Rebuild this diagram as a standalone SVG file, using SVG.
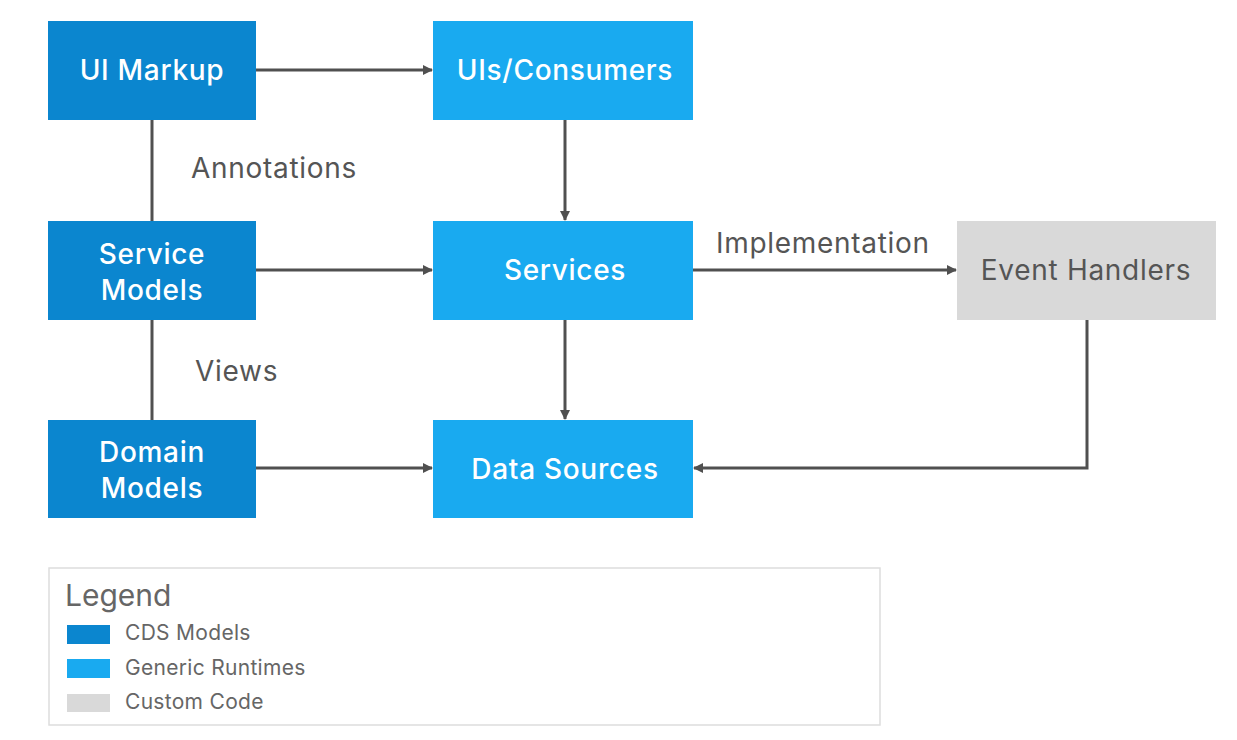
<svg xmlns="http://www.w3.org/2000/svg" width="1237" height="740" viewBox="0 0 1237 740">
<style>
.cds{fill:#0b86cf}
.gen{fill:#19aaf0}
.cust{fill:#d9d9d9}
.nt{font-family:"Inter","Liberation Sans",sans-serif;font-size:28px;font-weight:500;fill:#fff;text-anchor:middle;letter-spacing:0.7px}
.dt{fill:#555;font-weight:400}
.lbl{font-family:"Inter","Liberation Sans",sans-serif;font-size:28px;fill:#555;letter-spacing:0.7px}
.ln{stroke:#505050;stroke-width:3;fill:none}
.lg{font-family:"Inter","Liberation Sans",sans-serif;font-size:21px;fill:#666;letter-spacing:0.3px}
</style>
<defs>
<marker id="ah" markerWidth="10" markerHeight="10" refX="9" refY="5" orient="auto" markerUnits="userSpaceOnUse" viewBox="0 0 10 10">
<path d="M0,0 L10,5 L0,10 z" fill="#505050"/>
</marker>
</defs>
<rect width="1237" height="740" fill="#fff"/>
<g id="connectors">
<line class="ln" x1="256" y1="70" x2="432" y2="70" marker-end="url(#ah)"/>
<line class="ln" x1="152" y1="120" x2="152" y2="221"/>
<line class="ln" x1="152" y1="320" x2="152" y2="420"/>
<line class="ln" x1="565" y1="120" x2="565" y2="220" marker-end="url(#ah)"/>
<line class="ln" x1="565" y1="320" x2="565" y2="419" marker-end="url(#ah)"/>
<line class="ln" x1="256" y1="270" x2="432" y2="270" marker-end="url(#ah)"/>
<line class="ln" x1="256" y1="468" x2="432" y2="468" marker-end="url(#ah)"/>
<line class="ln" x1="693" y1="270" x2="956" y2="270" marker-end="url(#ah)"/>
<polyline class="ln" points="1087,320 1087,468 694,468" marker-end="url(#ah)"/>
<text class="lbl" x="191" y="178">Annotations</text>
<text class="lbl" x="195" y="381">Views</text>
<text class="lbl" x="716" y="253">Implementation</text>
</g>
<g id="ui-markup"><rect class="cds" x="48" y="21" width="208" height="99"/><text class="nt" x="152" y="80">UI Markup</text></g>
<g id="uis-consumers"><rect class="gen" x="433" y="21" width="260" height="99"/><text class="nt" x="565" y="80">UIs/Consumers</text></g>
<g id="service-models"><rect class="cds" x="48" y="221" width="208" height="99"/><text class="nt" x="152" y="264">Service</text><text class="nt" x="152" y="300">Models</text></g>
<g id="services"><rect class="gen" x="433" y="221" width="260" height="99"/><text class="nt" x="565" y="280">Services</text></g>
<g id="event-handlers"><rect class="cust" x="957" y="221" width="259" height="99"/><text class="nt dt" x="1086" y="280">Event Handlers</text></g>
<g id="domain-models"><rect class="cds" x="48" y="420" width="208" height="98"/><text class="nt" x="152" y="462">Domain</text><text class="nt" x="152" y="498">Models</text></g>
<g id="data-sources"><rect class="gen" x="433" y="420" width="260" height="98"/><text class="nt" x="565" y="479">Data Sources</text></g>
<g id="legend">
<rect x="49" y="568" width="831" height="157" fill="#fff" stroke="#ddd" stroke-width="1.5"/>
<text x="65" y="606" font-family="Inter,'Liberation Sans',sans-serif" font-size="30" fill="#666">Legend</text>
<rect class="cds" x="67" y="625" width="43" height="19"/>
<text class="lg" x="125" y="640">CDS Models</text>
<rect class="gen" x="67" y="659" width="43" height="19"/>
<text class="lg" x="125" y="675">Generic Runtimes</text>
<rect class="cust" x="67" y="694" width="43" height="18"/>
<text class="lg" x="125" y="709">Custom Code</text>
</g>
</svg>
